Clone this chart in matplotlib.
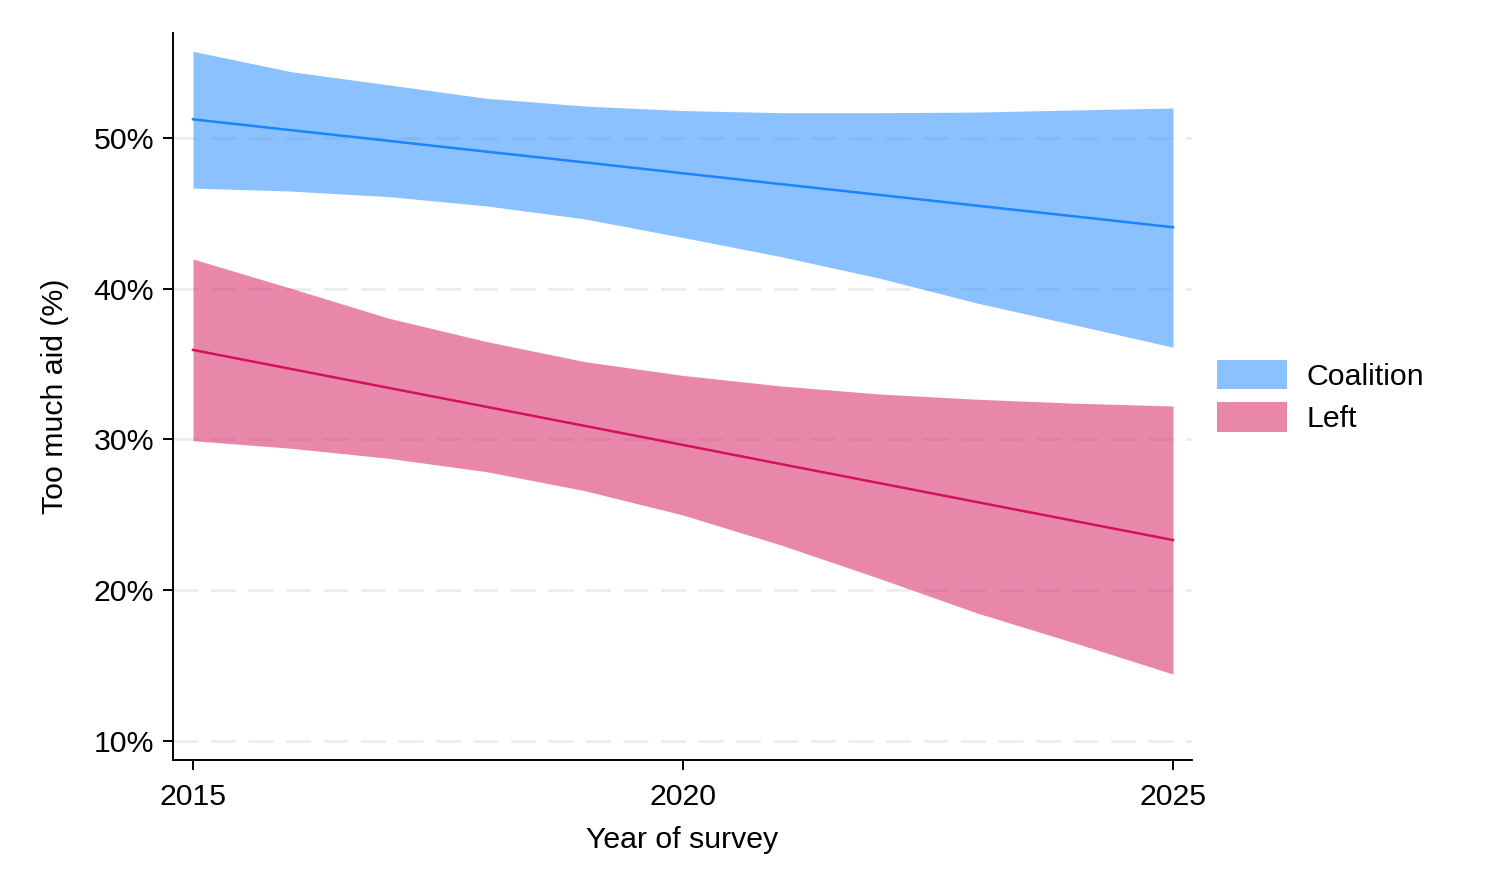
import numpy as np
import matplotlib
matplotlib.use("Agg")
import matplotlib.pyplot as plt
from matplotlib.patches import Patch
from matplotlib.ticker import FuncFormatter

plt.rcParams['font.family'] = ['Liberation Sans', 'DejaVu Sans']

years = [2015, 2016, 2017, 2018, 2019, 2020, 2021, 2022, 2023, 2024, 2025]

# Coalition: predicted share and 95% band
coal_fit = [51.24, 50.52, 49.81, 49.09, 48.38, 47.66, 46.94, 46.23, 45.51, 44.80, 44.08]
coal_hi = [55.75, 54.40, 53.52, 52.63, 52.12, 51.82, 51.68, 51.68, 51.72, 51.86, 51.99]
coal_lo = [46.68, 46.48, 46.11, 45.49, 44.63, 43.40, 42.13, 40.71, 39.05, 37.60, 36.12]

# Left: predicted share and 95% band
left_fit = [35.94, 34.68, 33.42, 32.16, 30.90, 29.64, 28.37, 27.11, 25.85, 24.59, 23.33]
left_hi = [41.97, 40.03, 38.04, 36.49, 35.16, 34.25, 33.55, 33.02, 32.67, 32.41, 32.22]
left_lo = [29.92, 29.42, 28.75, 27.86, 26.60, 24.99, 23.00, 20.79, 18.49, 16.50, 14.44]

labels = ["Coalition", "Left"]
line_cols = ["#1A85FF", "#D41159"]

fs = 21.8
fig = plt.figure(figsize=(14.85, 8.91), dpi=100)
ax = fig.add_axes([173/1485, 131/891, 1019/1485, 727/891])

for yv in [10, 20, 30, 40, 50]:
    ax.axhline(yv, color="#ececec", lw=2, dashes=(9, 4.5), zorder=0)

ax.fill_between(years, coal_lo, coal_hi, color=line_cols[0], alpha=0.5, lw=0, zorder=1)
ax.fill_between(years, left_lo, left_hi, color=line_cols[1], alpha=0.5, lw=0, zorder=1)
ax.plot(years, coal_fit, color=line_cols[0], lw=1.8, zorder=2)
ax.plot(years, left_fit, color=line_cols[1], lw=1.8, zorder=2)

ax.set_xlim(2015 - 20/98, 2025 + 19/98)
ax.set_ylim(10 - 19/15.075, 50 + 105/15.075)
ax.set_xticks([2015, 2020, 2025])
ax.set_yticks([10, 20, 30, 40, 50])
ax.yaxis.set_major_formatter(FuncFormatter(lambda v, p: f"{v:.0f}%"))

for s in ["top", "right"]:
    ax.spines[s].set_visible(False)
for s in ["left", "bottom"]:
    ax.spines[s].set_linewidth(1.4)
ax.tick_params(axis="both", length=7.5, width=1.4, labelsize=fs)
ax.tick_params(axis="x", pad=9)
ax.tick_params(axis="y", pad=6)

ax.set_xlabel("Year of survey", fontsize=fs, labelpad=11)
ax.set_ylabel("Too much aid (%)", fontsize=fs, labelpad=18)

handles = [Patch(facecolor=c, alpha=0.5, lw=0) for c in line_cols]
ax.legend(handles, labels, loc="center left", bbox_to_anchor=(1 + 25/1019, 0.5),
          frameon=False, fontsize=fs, borderpad=0, borderaxespad=0,
          handlelength=2.3, handleheight=1.12, handletextpad=0.65, labelspacing=0.38)

fig.savefig("out.png", dpi=100)
